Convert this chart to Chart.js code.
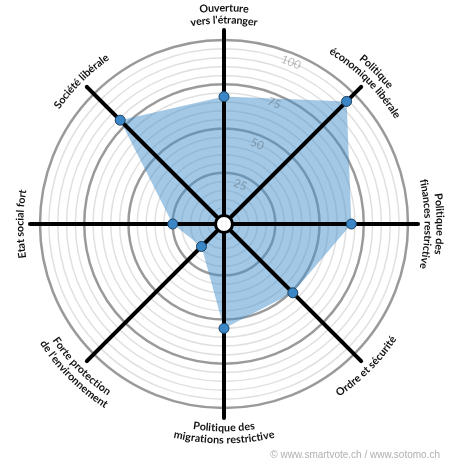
<!DOCTYPE html>
<html>
<head>
<meta charset="utf-8">
<script src="https://cdn.jsdelivr.net/npm/chart.js@4.4.1/dist/chart.umd.min.js"></script>
<style>
  html, body { margin: 0; padding: 0; background: #fff; }
  #wrap { position: relative; width: 450px; height: 470px; }
  #credit { position: absolute; right: 10px; top: 449px; font: 10px "Liberation Sans", Arial, sans-serif; color: #b0b0b0; }
</style>
</head>
<body>
<div id="wrap">
  <canvas id="spider" width="450" height="470"></canvas>
  <div id="credit">© www.smartvote.ch / www.sotomo.ch</div>
</div>
<script>
// axes clockwise from the top, each label split in its printed lines
const axisLabels = [
    ['Ouverture', 'vers l\'étranger'],
    ['Politique', 'économique libérale'],
    ['Politique des', 'finances restrictive'],
    ['Ordre et sécurité'],
    ['Politique des', 'migrations restrictive'],
    ['Forte protection', 'de l\'environnement'],
    ['Etat social fort'],
    ['Société libérale']
];
const scores = [68, 94, 68, 51, 55, 14, 25, 79];
const gridValues = [0, 5, 10, 15, 20, 25, 30, 35, 40, 45, 50, 55, 60, 65, 70, 75, 80, 85, 90, 95, 100];
const tickLabels = ['25', '50', '75', '100'];

const FONT = 'Lato, "DejaVu Sans", sans-serif';

// draw one line of text bent along a circle round the centre
function arcText(ctx, text, cx, cy, r, bearing, flipped) {
    const a = (bearing - 90) * Math.PI / 180;
    const total = ctx.measureText(text).width;
    for (let i = 0; i < text.length; i++) {
        const ch = text[i];
        const w = ctx.measureText(ch).width;
        const s = ctx.measureText(text.slice(0, i)).width + w / 2 - total / 2;
        const ang = flipped ? a - s / r : a + s / r;
        ctx.save();
        ctx.translate(cx + r * Math.cos(ang), cy + r * Math.sin(ang));
        ctx.rotate(flipped ? ang - Math.PI / 2 : ang + Math.PI / 2);
        ctx.fillText(ch, 0, 0);
        ctx.restore();
    }
}

const spiderDecor = {
    id: 'spiderDecor',
    beforeDatasetDraw(chart) {
        const scale = chart.scales.r;
        const ctx = chart.ctx;
        const cx = scale.xCenter, cy = scale.yCenter;
        // black axes, over the fill, under the points
        ctx.save();
        ctx.strokeStyle = '#000';
        ctx.lineWidth = 4;
        ctx.lineCap = 'round';
        axisLabels.forEach((l, i) => {
            const p = scale.getPointPosition(i, 194);
            ctx.beginPath();
            ctx.moveTo(cx, cy);
            ctx.lineTo(p.x, p.y);
            ctx.stroke();
        });
        // value labels between the first two axes
        ctx.font = '11.5px ' + FONT;
        ctx.fillStyle = 'rgba(80, 80, 80, 0.4)';
        ctx.textAlign = 'center';
        ctx.textBaseline = 'middle';
        tickLabels.forEach(t => {
            const r = scale.getDistanceFromCenterForValue(Number(t)) - 9;
            const b = 22.5 * Math.PI / 180;
            ctx.save();
            ctx.translate(cx + r * Math.sin(b), cy - r * Math.cos(b));
            ctx.rotate(b);
            ctx.fillText(t, 0, 0);
            ctx.restore();
        });
        ctx.restore();
    },
    afterDatasetsDraw(chart) {
        const scale = chart.scales.r;
        const ctx = chart.ctx;
        const cx = scale.xCenter, cy = scale.yCenter;
        // white hub
        ctx.save();
        ctx.beginPath();
        ctx.arc(cx, cy, 8.5, 0, Math.PI * 2);
        ctx.fillStyle = '#fff';
        ctx.fill();
        ctx.lineWidth = 3;
        ctx.strokeStyle = '#000';
        ctx.stroke();

        // axis titles
        ctx.font = 'bold 10.7px ' + FONT;
        ctx.fillStyle = '#111';
        ctx.textAlign = 'center';
        ctx.textBaseline = 'middle';
        axisLabels.forEach((lines, i) => {
            const bearing = i * 45;
            const flipped = bearing > 90 && bearing < 270;
            lines.forEach((line, j) => {
                let r;
                if (lines.length === 1) r = 204;
                else if (flipped) r = j === 0 ? 204 : 216;
                else r = j === 0 ? 216 : 204;
                arcText(ctx, line, cx, cy, r, bearing, flipped);
            });
        });
        ctx.restore();
    }
};

new Chart(document.getElementById('spider'), {
    type: 'radar',
    data: {
        labels: axisLabels.map(l => l.join(' ')),
        datasets: [{
            data: scores,
            fill: true,
            backgroundColor: 'rgba(70, 145, 205, 0.5)',
            borderColor: 'rgba(0, 0, 0, 0)',
            borderWidth: 1,
            pointRadius: 5,
            pointBackgroundColor: '#3a86c6',
            pointBorderColor: '#1d3f5e',
            pointBorderWidth: 1
        }]
    },
    options: {
        responsive: false,
        animation: false,
        devicePixelRatio: 1,
        layout: { padding: { left: 40, top: 40, right: 42, bottom: 62 } },
        plugins: {
            legend: { display: false },
            tooltip: { enabled: false },
            filler: { drawTime: 'beforeDatasetsDraw' }
        },
        scales: {
            r: {
                min: -4,
                max: 100,
                afterBuildTicks: scale => {
                    scale.ticks = gridValues.map(v => ({ value: v }));
                },
                ticks: { display: false },
                pointLabels: { display: false },
                angleLines: { display: false },
                grid: {
                    circular: true,
                    color: ctx => ctx.tick && ctx.tick.value % 25 === 0 && ctx.tick.value > 0 ? '#9a9a9a' : '#e0e0e0',
                    lineWidth: ctx => ctx.tick && ctx.tick.value % 25 === 0 && ctx.tick.value > 0 ? 2.5 : 1.5
                }
            }
        }
    },
    plugins: [spiderDecor]
});
</script>
</body>
</html>
